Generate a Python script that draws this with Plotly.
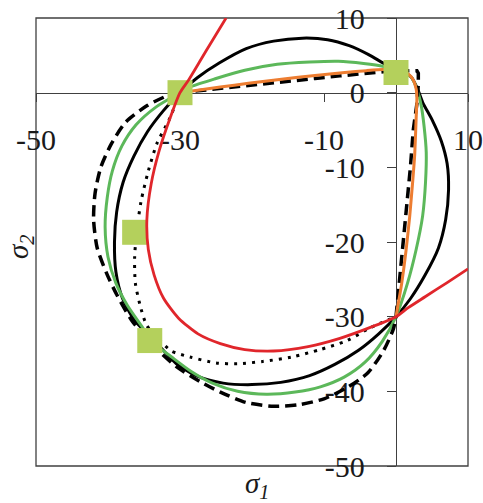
import plotly.graph_objects as go

# ---- tick labels ----
x_tick_vals = [-50, -30, -10, 10]
x_tick_text = ["-50", "-30", "-10", "10"]
y_tick_vals = [10, 0, -10, -20, -30, -40, -50]
y_tick_text = ["10", "0", "-10", "-20", "-30", "-40", "-50"]

# ---- series (sigma1, sigma2) ----
red_x = [-23.6, -25.5, -27.3, -28.8, -30.0, -31.3, -32.9, -34.0, -34.6, -34.4, -33.6, -32.3, -30.2, -27.5, -24.4, -21.0, -17.0, -12.2, -7.8, -3.2, 0.0, 1.7, 4.1, 7.0, 10.0]
red_y = [10.0, 7.0, 4.1, 1.7, 0.0, -3.2, -7.8, -12.2, -17.0, -21.0, -24.4, -27.5, -30.2, -32.3, -33.6, -34.4, -34.6, -34.0, -32.9, -31.3, -30.0, -28.8, -27.3, -25.5, -23.6]

black_x = [-33.4, -36.3, -38.0, -38.9, -39.1, -38.8, -37.9, -36.4, -34.5, -32.3, -30.0, -27.6, -24.5, -20.8, -17.0, -13.0, -9.5, -6.5, -3.8, -1.3, 0.5, 2.1, 3.0, 3.7, 5.1, 6.3, 7.1, 7.3, 6.9, 5.9, 4.0, 2.0, 0.0, -2.4, -5.2, -8.5, -12.0, -16.0, -20.0, -24.0, -27.5, -30.5, -33.4]
black_y = [-33.4, -30.5, -27.5, -24.0, -20.0, -16.0, -12.0, -8.5, -5.2, -2.4, 0.0, 2.0, 4.0, 5.9, 6.9, 7.3, 7.1, 6.3, 5.1, 3.7, 3.0, 2.1, 0.5, -1.3, -3.8, -6.5, -9.5, -13.0, -17.0, -20.8, -24.5, -27.6, -30.0, -32.3, -34.5, -36.4, -37.9, -38.8, -39.1, -38.9, -38.0, -36.3, -33.4]

green_x = [-33.6, -35.3, -37.3, -38.9, -40.0, -40.4, -40.1, -39.4, -38.1, -36.1, -33.3, -30.0, -28.5, -25.0, -21.0, -16.5, -12.0, -8.0, -4.5, -1.7, 0.5, 2.1, 2.9, 3.5, 3.9, 4.2, 4.1, 3.7, 2.8, 1.6, 0.0, -1.9, -4.3, -7.2, -10.5, -14.0, -18.0, -22.0, -25.5, -28.5, -31.3, -33.6]
green_y = [-33.6, -31.3, -28.5, -25.5, -22.0, -18.0, -14.0, -10.5, -7.2, -4.3, -1.9, 0.0, 0.8, 1.9, 3.0, 3.8, 4.1, 4.2, 3.9, 3.5, 2.9, 2.1, 0.5, -1.7, -4.5, -8.0, -12.0, -16.5, -21.0, -25.5, -30.0, -33.3, -36.1, -38.1, -39.4, -40.1, -40.4, -40.0, -38.9, -37.3, -35.3, -33.6]

dashed_curve_x = [-30.0, -31.6, -34.5, -37.5, -39.5, -41.0, -41.8, -42.0, -41.5, -40.1, -38.7, -36.7, -33.8, -30.5, -27.2, -24.4, -20.8, -17.0, -13.5, -10.0, -6.8, -3.9, -1.7, -0.35, 0.0]
dashed_curve_y = [0.0, -0.35, -1.7, -3.9, -6.8, -10.0, -13.5, -17.0, -20.8, -24.4, -27.2, -30.5, -33.8, -36.7, -38.7, -40.1, -41.5, -42.0, -41.8, -41.0, -39.5, -37.5, -34.5, -31.6, -30.0]
dashed_corner_x = [0.0, 0.5, 1.1, 1.6, 2.0, 2.4, 2.9, 3.1, 3.1, 2.9, 2.2, -1.8, -4.1, -7.8, -11.25, -15.9, -20.5, -24.4, -30.0]
dashed_corner_y = [-30.0, -25.0, -20.0, -15.0, -10.0, -5.0, -1.5, 1.1, 2.6, 2.95, 2.95, 2.8, 2.55, 2.25, 1.9, 1.45, 1.0, 0.6, 0.0]

dotted_x = [-30.0, -31.5, -33.2, -34.4, -35.4, -36.0, -36.3, -36.2, -35.4, -34.6, -33.0, -31.2, -28.6, -25.0, -22.0, -18.5, -14.5, -10.5, -6.8, -3.6, 0.0]
dotted_y = [0.0, -3.6, -6.8, -10.5, -14.5, -18.5, -22.0, -25.5, -29.0, -31.2, -33.0, -34.6, -35.4, -36.2, -36.3, -36.0, -35.4, -34.4, -33.2, -31.5, -30.0]

orange_x = [-30.0, -24.4, -20.5, -15.9, -11.25, -7.1, -4.1, -1.8, 0.5, 1.7, 2.4, 2.8, 2.9, 2.8, 2.6, 2.3, 1.9, 1.4, 0.8, 0.0]
orange_y = [0.0, 0.75, 1.25, 1.8, 2.3, 2.7, 2.95, 3.1, 3.0, 2.5, 1.7, 0.5, -0.8, -3.4, -8.3, -12.1, -16.6, -21.1, -25.5, -30.0]

point_x = [-30.0, 0.0, -36.3, -34.2]
point_y = [0.0, 2.7, -18.7, -33.2]

BLACK = "#000000"
GREEN = "#5cb85a"
RED = "#e0262b"
ORANGE = "#ed7d31"
MARK = "#b4d05c"
AXIS = "#404040"

SM = 0.7

fig = go.Figure()
fig.add_trace(go.Scatter(x=black_x, y=black_y, mode="lines",
                         line=dict(color=BLACK, width=3, shape="spline", smoothing=SM)))
fig.add_trace(go.Scatter(x=green_x, y=green_y, mode="lines",
                         line=dict(color=GREEN, width=3, shape="spline", smoothing=SM)))
fig.add_trace(go.Scatter(x=dashed_curve_x, y=dashed_curve_y, mode="lines",
                         line=dict(color=BLACK, width=3.5, dash="11px,6px", shape="spline", smoothing=SM)))
fig.add_trace(go.Scatter(x=dashed_corner_x, y=dashed_corner_y, mode="lines",
                         line=dict(color=BLACK, width=3.5, dash="11px,6px")))
fig.add_trace(go.Scatter(x=dotted_x, y=dotted_y, mode="lines",
                         line=dict(color=BLACK, width=3, dash="3px,6px", shape="spline", smoothing=SM)))
fig.add_trace(go.Scatter(x=orange_x, y=orange_y, mode="lines",
                         line=dict(color=ORANGE, width=3, shape="spline", smoothing=0.5)))
fig.add_trace(go.Scatter(x=point_x, y=point_y, mode="markers",
                         marker=dict(symbol="square", size=25, color=MARK, line=dict(width=0))))
fig.add_trace(go.Scatter(x=red_x, y=red_y, mode="lines",
                         line=dict(color=RED, width=2.8, shape="spline", smoothing=SM)))

tick_font = dict(family="Liberation Serif", size=30, color="#1a1a1a")

fig.update_layout(
    width=483, height=503,
    margin=dict(l=36, r=15, t=18, b=37, autoexpand=False),
    paper_bgcolor="white", plot_bgcolor="white",
    showlegend=False,
    xaxis=dict(range=[-50, 10], anchor="free", position=50 / 60, automargin=False,
               showgrid=False, zeroline=False,
               showline=True, linecolor=AXIS, linewidth=1.3,
               ticks="outside", ticklen=8, tickwidth=1.3, tickcolor=AXIS,
               tickvals=x_tick_vals, ticktext=x_tick_text,
               tickfont=tick_font, ticklabelstandoff=12,
               layer="below traces"),
    yaxis=dict(range=[-50, 10], anchor="free", position=50 / 60, automargin=False,
               showgrid=False, zeroline=False,
               showline=True, linecolor=AXIS, linewidth=1.3,
               ticks="outside", ticklen=9, tickwidth=1.3, tickcolor=AXIS,
               tickvals=y_tick_vals, ticktext=y_tick_text,
               tickfont=tick_font, ticklabelstandoff=16,
               layer="below traces"),
    shapes=[dict(type="rect", xref="paper", yref="paper", x0=0, y0=0, x1=1, y1=1,
                 line=dict(color=AXIS, width=1.3), layer="below")],
    annotations=[
        dict(text="<i>σ<sub>1</sub></i>", xref="paper", yref="paper",
             x=0.512, y=-0.043, showarrow=False, xanchor="center", yanchor="middle",
             font=dict(family="Liberation Serif", size=29, color="#1a1a1a")),
        dict(text="<i>σ<sub>2</sub></i>", xref="paper", yref="paper",
             x=-0.037, y=0.489, showarrow=False, xanchor="center", yanchor="middle",
             textangle=-90,
             font=dict(family="Liberation Serif", size=29, color="#1a1a1a")),
    ],
)

fig.write_html("out.html")
